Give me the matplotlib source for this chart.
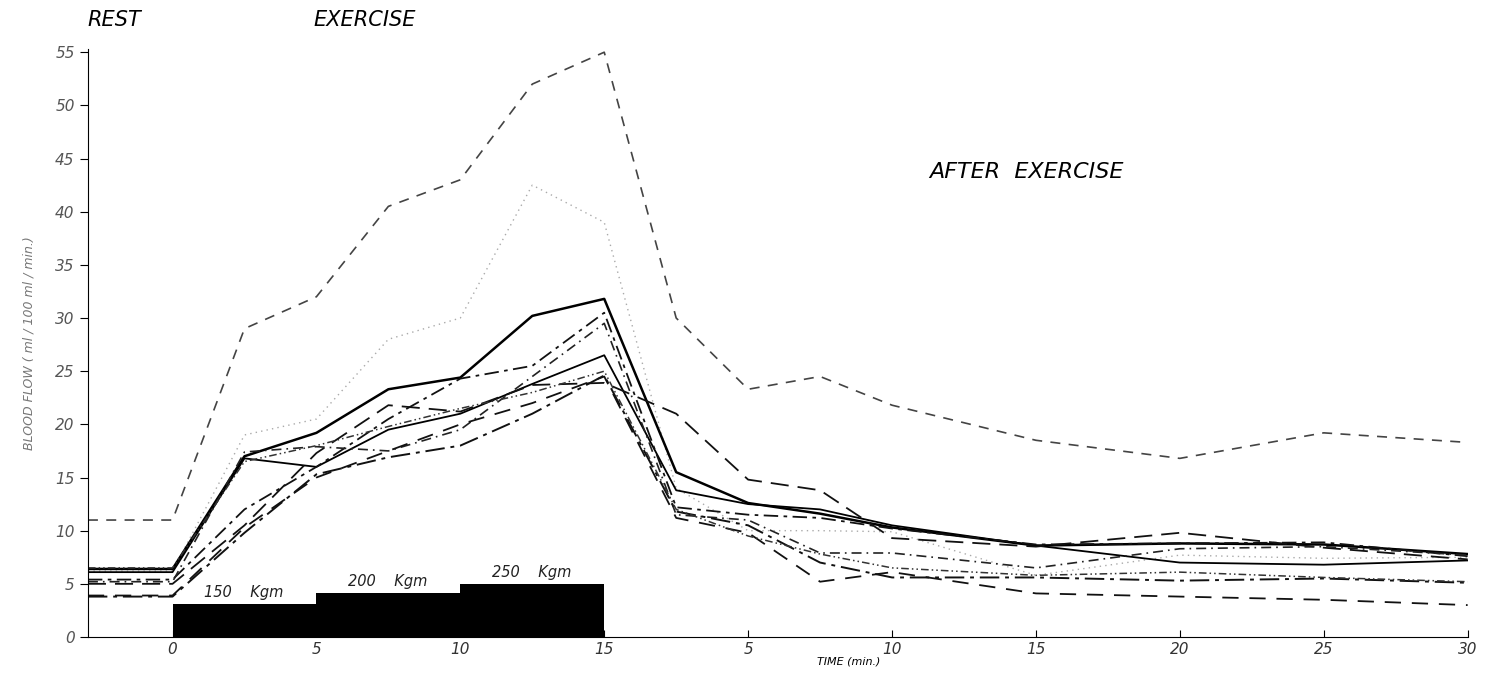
import matplotlib.pyplot as plt

# tempo continuo: repouso (<0), exercicio 0-15, pos-exercicio 15-45 (= 0-30 min)
t = [-2.94, 0, 2.5, 5, 7.5, 10, 12.5, 15, 17.5, 20, 22.5, 25, 30, 35, 40, 45]

s_a = [11, 11, 29, 32, 40.5, 43, 52, 55, 30, 23.3, 24.5, 21.8, 18.5, 16.8, 19.2, 18.3]
s_b = [6.2, 6.2, 19, 20.5, 28, 30, 42.5, 39, 14, 10, 10, 9.9, 5.8, 7.7, 7.4, 7.5]
s_c = [6.4, 6.4, 17, 19.2, 23.3, 24.4, 30.2, 31.8, 15.5, 12.6, 11.6, 10.3, 8.6, 8.8, 8.7, 7.8]
s_d = [6.1, 6.1, 16.8, 16.0, 19.5, 21.0, 23.8, 26.5, 13.8, 12.5, 12.0, 10.5, 8.6, 7.0, 6.8, 7.2]
s_e = [5.4, 5.4, 12, 16, 20.5, 24.3, 25.5, 30.5, 12.2, 11.5, 11.2, 10.2, 8.7, 8.8, 8.9, 7.6]
s_f = [5.0, 5.0, 10.5, 17.3, 21.8, 21.2, 23.7, 23.9, 21, 14.8, 13.8, 9.3, 8.5, 9.8, 8.4, 7.3]
s_g = [5.2, 5.2, 17.4, 17.9, 17.5, 19.5, 24.5, 29.5, 11.5, 11.0, 7.9, 7.9, 6.5, 8.3, 8.5, 7.7]
s_h = [3.9, 3.9, 10.3, 15, 17.5, 20, 22, 24.5, 11.2, 9.8, 5.2, 6.1, 4.1, 3.8, 3.5, 3.0]
s_i = [3.8, 3.8, 9.8, 15.3, 16.9, 18, 21, 24.6, 11.8, 10.5, 7.0, 5.6, 5.6, 5.3, 5.5, 5.1]
s_j = [6.5, 6.5, 16.5, 18, 19.8, 21.5, 23, 25, 12, 9.5, 7.8, 6.5, 5.8, 6.1, 5.6, 5.2]

# carga de trabalho
load_start = [0, 5, 10]
load_height = [3.1, 4.1, 5.0]
load_labels = ['150    Kgm', '200    Kgm', '250    Kgm']

xticks = [0, 5, 10, 15, 20, 25, 30, 35, 40, 45]
xticklabels = ['0', '5', '10', '15', '5', '10', '15', '20', '25', '30']
yticks = [0, 5, 10, 15, 20, 25, 30, 35, 40, 45, 50, 55]

fig = plt.figure(figsize=(14.9, 6.76), dpi=100)
ax = fig.add_axes([0.059, 0.0577, 0.926, 0.8698])

ax.bar(load_start, load_height, width=5, align='edge', color='black', zorder=1)
for x0, h, lab in zip(load_start, load_height, load_labels):
    ax.text(x0 + 1.1, h + 1.1, lab, fontsize=10.5, style='italic', va='center', color='#222')

ax.plot(t, s_a, color='#444', lw=1.2, ls=(0, (6, 5)))
ax.plot(t, s_b, color='#aaa', lw=1.0, ls=(0, (1, 3)))
ax.plot(t, s_c, color='black', lw=1.8, ls='-')
ax.plot(t, s_d, color='black', lw=1.3, ls='-')
ax.plot(t, s_e, color='#111', lw=1.3, ls=(0, (8, 3, 2, 3)))
ax.plot(t, s_f, color='#111', lw=1.3, ls=(0, (10, 5)))
ax.plot(t, s_g, color='#222', lw=1.2, ls=(0, (6, 3, 1, 3)))
ax.plot(t, s_h, color='#111', lw=1.3, ls=(0, (9, 6)))
ax.plot(t, s_i, color='#111', lw=1.4, ls=(0, (10, 3, 2, 3)))
ax.plot(t, s_j, color='#333', lw=1.1, ls=(0, (5, 2, 1, 2, 1, 2)))

ax.set_xlim(-2.94, 45)
ax.set_ylim(0, 55.3)
ax.set_xticks(xticks)
ax.set_xticklabels(xticklabels, style='italic', fontsize=11, color='#333')
ax.set_yticks(yticks)
ax.set_yticklabels([str(v) for v in yticks], style='italic', fontsize=11, color='#555')
ax.tick_params(axis='x', direction='in', length=5)
ax.tick_params(axis='y', direction='out', length=6)
ax.spines['top'].set_visible(False)
ax.spines['right'].set_visible(False)

ax.set_ylabel('BLOOD FLOW ( ml / 100 ml / min.)', fontsize=9, style='italic', color='#777', labelpad=14)
ax.text(23.5, -2.3, 'TIME (min.)', fontsize=8, style='italic', ha='center', va='center', clip_on=False)

ax.text(-2.94, 58.0, 'REST', fontsize=15, style='italic', va='center', clip_on=False)
ax.text(4.9, 58.0, 'EXERCISE', fontsize=15, style='italic', va='center', clip_on=False)
ax.text(26.3, 43.7, 'AFTER  EXERCISE', fontsize=16, style='italic', va='center')

fig.savefig('out.png', dpi=100)
